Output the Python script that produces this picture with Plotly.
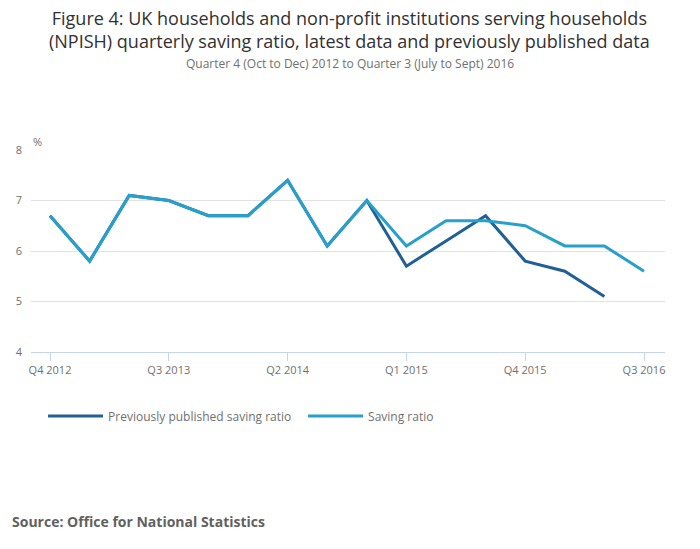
import plotly.graph_objects as go

# Trimestres Q4 2012 .. Q3 2016
quarters = ["Q4 2012", "Q1 2013", "Q2 2013", "Q3 2013", "Q4 2013", "Q1 2014",
            "Q2 2014", "Q3 2014", "Q4 2014", "Q1 2015", "Q2 2015", "Q3 2015",
            "Q4 2015", "Q1 2016", "Q2 2016", "Q3 2016"]
saving_ratio = [6.7, 5.8, 7.1, 7.0, 6.7, 6.7, 7.4, 6.1, 7.0, 6.1, 6.6, 6.6,
                6.5, 6.1, 6.1, 5.6]
previous_ratio = [6.7, 5.8, 7.1, 7.0, 6.7, 6.7, 7.4, 6.1, 7.0, 5.7, 6.2, 6.7,
                  5.8, 5.6, 5.1, None]
tick_labels = ["Q4 2012", "Q3 2013", "Q2 2014", "Q1 2015", "Q4 2015", "Q3 2016"]

FONT = "Open Sans"
GREY = "#707070"

fig = go.Figure()
fig.add_trace(go.Scatter(
    x=quarters, y=previous_ratio, mode="lines",
    name="Previously published saving ratio",
    line=dict(color="#206095", width=3)
))
fig.add_trace(go.Scatter(
    x=quarters, y=saving_ratio, mode="lines",
    name="Saving ratio",
    line=dict(color="#27a0cc", width=3)
))

# a página tem 8px de margem no body, por isso 692x541
fig.update_layout(
    width=692, height=541,
    margin=dict(l=23, r=35, t=142, b=197),
    paper_bgcolor="white", plot_bgcolor="white",
    font=dict(family=FONT, color=GREY, size=11),
    showlegend=True,
    legend=dict(orientation="h", x=0.019, y=-0.317, yanchor="middle",
                font=dict(size=12, color=GREY), itemwidth=55,
                entrywidth=190, entrywidthmode="pixels",
                tracegroupgap=0),
    xaxis=dict(
        type="category", range=[-0.48, 15.53], automargin=False,
        tickmode="array", tickvals=tick_labels, ticktext=tick_labels,
        showgrid=False, showline=True, linecolor="#c4d4ec", linewidth=1,
        ticks="outside", tickcolor="#c4d4ec", ticklen=8,
        tickfont=dict(size=11, color=GREY), zeroline=False
    ),
    yaxis=dict(
        range=[4, 8], dtick=1, showgrid=True, gridcolor="#e2e2e2",
        automargin=False,
        zeroline=False, showline=False, ticks="", ticklabelstandoff=8,
        tickfont=dict(size=11, color=GREY)
    ),
    annotations=[
        dict(text="Figure 4: UK households and non-profit institutions serving households"
                  "<br>(NPISH) quarterly saving ratio, latest data and previously published data",
             xref="paper", yref="paper", x=0.503, y=1.597, showarrow=False,
             font=dict(size=18, color="#323132"), xanchor="center", yanchor="middle"),
        dict(text="Quarter 4 (Oct to Dec) 2012 to Quarter 3 (July to Sept) 2016",
             xref="paper", yref="paper", x=0.503, y=1.43, showarrow=False,
             font=dict(size=12, color=GREY), xanchor="center", yanchor="middle"),
        dict(text="%", xref="paper", yref="paper", x=0.0, y=1.04,
             showarrow=False, font=dict(size=11, color=GREY),
             xanchor="left", yanchor="middle"),
        dict(text="<b>Source: Office for National Statistics</b>",
             xref="paper", yref="paper", x=-0.033, y=-0.837, showarrow=False,
             font=dict(size=14, color="#616161"), xanchor="left", yanchor="middle"),
    ],
)

fig.write_html("out.html")
